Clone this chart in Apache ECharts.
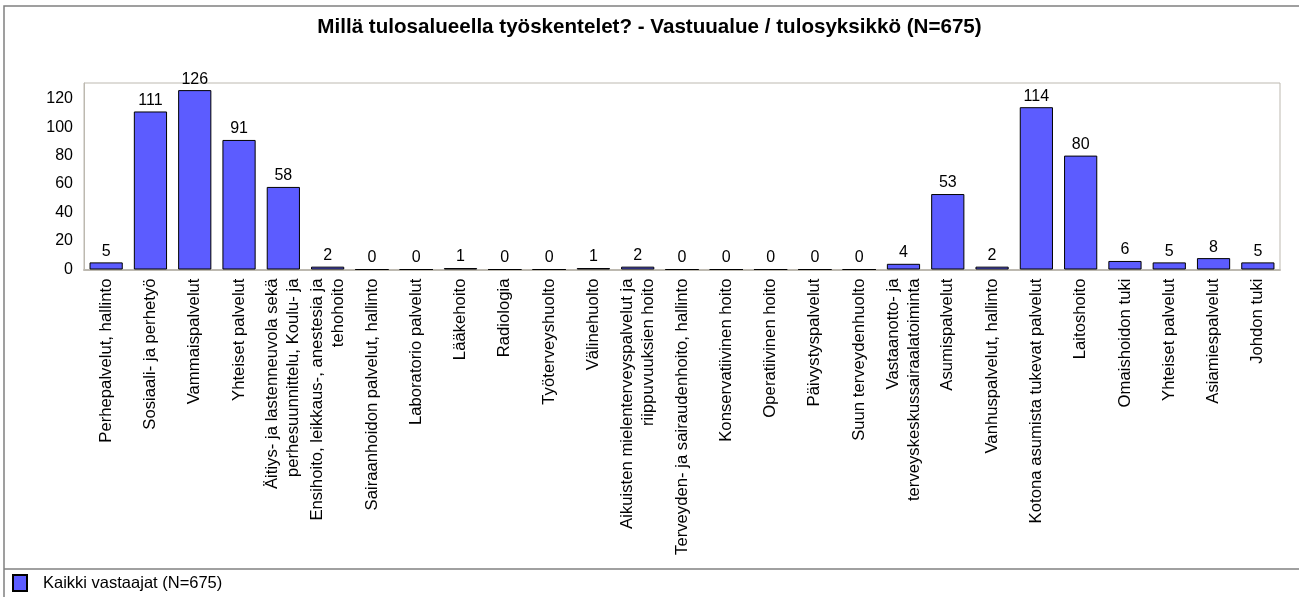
<!DOCTYPE html>
<html>
<head>
<meta charset="utf-8">
<title>Millä tulosalueella työskentelet?</title>
<script src="https://cdn.jsdelivr.net/npm/echarts@6/dist/echarts.min.js"></script>
<style>
    html, body { margin:0; padding:0; background:#fff; }
    #chart { width:1299px; height:597px; }
</style>
</head>
<body>
<div id="chart"></div>
<script>
var chartTitle = 'Millä tulosalueella työskentelet? - Vastuualue / tulosyksikkö (N=675)';
var seriesName = 'Kaikki vastaajat (N=675)';

var categories = [
    'Perhepalvelut, hallinto',
    'Sosiaali- ja perhetyö',
    'Vammaispalvelut',
    'Yhteiset palvelut',
    'Äitiys- ja lastenneuvola sekä\nperhesuunnittelu, Koulu- ja',
    'Ensihoito, leikkaus-, anestesia ja\ntehohoito',
    'Sairaanhoidon palvelut, hallinto',
    'Laboratorio palvelut',
    'Lääkehoito',
    'Radiologia',
    'Työterveyshuolto',
    'Välinehuolto',
    'Aikuisten mielenterveyspalvelut ja\nriippuvuuksien hoito',
    'Terveyden- ja sairaudenhoito, hallinto',
    'Konservatiivinen hoito',
    'Operatiivinen hoito',
    'Päivystyspalvelut',
    'Suun terveydenhuolto',
    'Vastaanotto- ja\nterveyskeskussairaalatoiminta',
    'Asumispalvelut',
    'Vanhuspalvelut, hallinto',
    'Kotona asumista tukevat palvelut',
    'Laitoshoito',
    'Omaishoidon tuki',
    'Yhteiset palvelut',
    'Asiamiespalvelut',
    'Johdon tuki'
];

var counts = [5, 111, 126, 91, 58, 2, 0, 0, 1, 0, 0, 1, 2, 0, 0, 0, 0, 0, 4, 53, 2, 114, 80, 6, 5, 8, 5];

var yMin = 0;
var yMax = 131;
var yStep = 20;

var font = '"Liberation Sans", Arial, sans-serif';

/*chart from here*/
window.fn = {};

window.fn.chart = function(target, option){
    var el = document.getElementById(target);
    var myChart = echarts.init(el, null, {renderer:'canvas'});
    myChart.clear();
    if(option)
        myChart.setOption(option);
    return myChart;
}

var option = {
    animation: false,
    backgroundColor: '#fff',
    title: {
        text: chartTitle,
        left: 'center',
        top: 17,
        padding: 0,
        textStyle: {fontFamily: font, fontSize: 20.6, fontWeight: 'bold', color: '#000'}
    },
    legend: {
        left: 12,
        top: 574,
        padding: 0,
        itemWidth: 14,
        itemHeight: 16,
        icon: 'rect',
        data: [seriesName],
        textStyle: {fontFamily: font, fontSize: 16.5, color: '#000', padding: [0, 0, 0, 11]}
    },
    grid: {
        left: 84,
        right: 19,
        top: 83,
        bottom: 597 - 269.5,
        show: true,
        borderColor: '#bdb9b0',
        borderWidth: 1,
        backgroundColor: 'transparent'
    },
    xAxis: {
        type: 'category',
        data: categories,
        axisLine: {show: true, lineStyle: {color: '#bdb9b0', width: 2}},
        axisTick: {show: false},
        axisLabel: {
            interval: 0,
            rotate: 90,
            margin: 9,
            fontFamily: font,
            fontSize: 16.7,
            lineHeight: 21,
            color: '#000'
        }
    },
    yAxis: {
        type: 'value',
        min: yMin,
        max: yMax,
        interval: yStep,
        splitLine: {show: false},
        axisTick: {show: false},
        axisLine: {show: true, lineStyle: {color: '#bdb9b0', width: 1}},
        axisLabel: {
            showMaxLabel: false,
            margin: 11,
            fontFamily: font,
            fontSize: 16,
            color: '#000'
        }
    },
    series: [{
        name: seriesName,
        type: 'bar',
        data: counts,
        barWidth: '75%',
        itemStyle: {color: '#5c5cff', borderColor: '#000', borderWidth: 1},
        label: {
            show: true,
            position: 'top',
            distance: 3,
            fontFamily: font,
            fontSize: 16,
            color: '#000'
        }
    }],
    graphic: [
        {
            type: 'rect',
            silent: true,
            shape: {x: 4, y: 6, width: 1400, height: 700},
            style: {fill: 'none', stroke: '#808080', lineWidth: 1.5}
        },
        {
            type: 'line',
            silent: true,
            shape: {x1: 4, y1: 569, x2: 1299, y2: 569},
            style: {stroke: '#808080', lineWidth: 1.5}
        }
    ]
};

window.fn.chart('chart', option);
</script>
</body>
</html>
